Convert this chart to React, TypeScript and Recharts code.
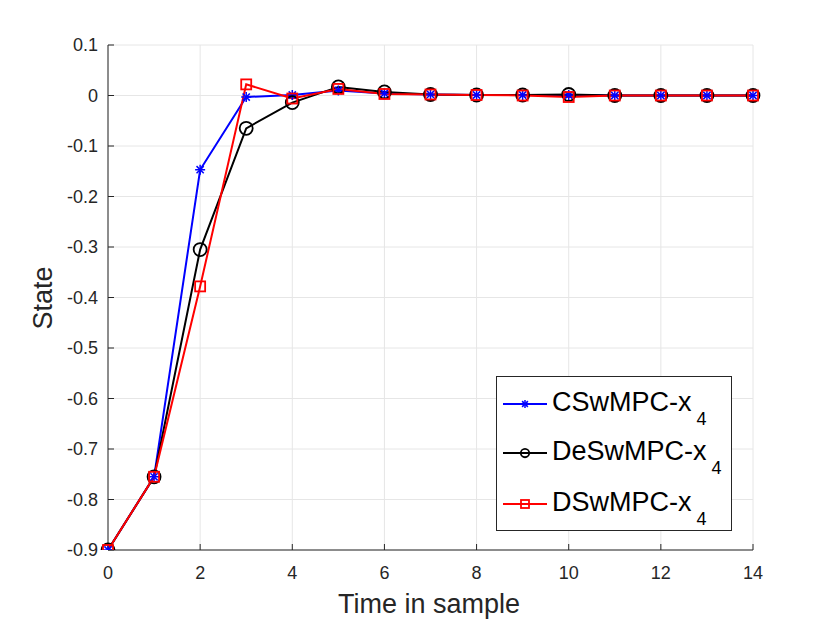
import React from 'react';
import { LineChart, Line, XAxis, YAxis, CartesianGrid } from 'recharts';

const timeSteps = [0, 1, 2, 3, 4, 5, 6, 7, 8, 9, 10, 11, 12, 13, 14];
const cswmpc = [-0.9, -0.755, -0.147, -0.003, 0.001, 0.01, 0.004, 0.002, 0.001, 0.001, 0.001, 0, 0, 0, 0];
const deswmpc = [-0.9, -0.755, -0.305, -0.065, -0.014, 0.017, 0.007, 0.002, 0.001, 0.001, 0.002, 0, 0, 0, 0];
const dswmpc = [-0.9, -0.755, -0.378, 0.022, -0.006, 0.013, 0.003, 0.002, 0.001, 0, -0.003, 0, 0, 0, 0];
const xTicks = [0, 2, 4, 6, 8, 10, 12, 14];
const yTicks = [-0.9, -0.8, -0.7, -0.6, -0.5, -0.4, -0.3, -0.2, -0.1, 0, 0.1];
const seriesNames = ['CSwMPC-x', 'DeSwMPC-x', 'DSwMPC-x'];

const data = timeSteps.map((t, i) => ({ t, c: cswmpc[i], de: deswmpc[i], d: dswmpc[i] }));

const FONT = '"Liberation Sans", Arial, Helvetica, sans-serif';
const AXIS = '#262626';

const Star = ({ cx, cy, color, s = 1 }: any) => (
  <g stroke={color} strokeWidth={1.5}>
    <line x1={cx - 5 * s} y1={cy} x2={cx + 5 * s} y2={cy} />
    <line x1={cx} y1={cy - 5 * s} x2={cx} y2={cy + 5 * s} />
    <line x1={cx - 3.6 * s} y1={cy - 3.6 * s} x2={cx + 3.6 * s} y2={cy + 3.6 * s} />
    <line x1={cx - 3.6 * s} y1={cy + 3.6 * s} x2={cx + 3.6 * s} y2={cy - 3.6 * s} />
  </g>
);
const Circ = ({ cx, cy, color, s = 1 }: any) => (
  <circle cx={cx} cy={cy} r={6.5 * s} fill="none" stroke={color} strokeWidth={1.8} />
);
const Sq = ({ cx, cy, color, s = 1 }: any) => (
  <rect x={cx - 5 * s} y={cy - 5 * s} width={10 * s} height={10 * s} fill="none" stroke={color} strokeWidth={1.8} />
);

const starDot = (p: any) => <Star key={`s-${p.index}`} cx={p.cx} cy={p.cy} color="#0000ff" />;
const circDot = (p: any) => <Circ key={`c-${p.index}`} cx={p.cx} cy={p.cy} color="#000000" />;
const sqDot = (p: any) => <Sq key={`q-${p.index}`} cx={p.cx} cy={p.cy} color="#ff0000" />;

const fmtY = (v: number) => (Math.abs(v) < 1e-9 ? '0' : v.toFixed(1));
const tickStyle = { fontSize: 18, fill: AXIS, fontFamily: FONT };

export default function App() {
  const legendRows = [
    { name: seriesNames[0], color: '#0000ff', M: Star, y: 404, s: 0.8 },
    { name: seriesNames[1], color: '#000000', M: Circ, y: 453, s: 0.65 },
    { name: seriesNames[2], color: '#ff0000', M: Sq, y: 504, s: 0.8 },
  ];
  return (
    <div style={{ position: 'absolute', left: 0, top: 0, width: 830, height: 623, background: '#fff' }}>
      <LineChart width={830} height={623} data={data} margin={{ top: 45, right: 77, bottom: 43, left: 48 }}>
        <CartesianGrid stroke="#e6e6e6" strokeWidth={1} />
        <XAxis
          dataKey="t"
          type="number"
          domain={[0, 14]}
          ticks={xTicks}
          height={30}
          tickSize={-6}
          tickMargin={22}
          tick={tickStyle}
          axisLine={{ stroke: AXIS }}
          tickLine={{ stroke: AXIS }}
        />
        <XAxis
          xAxisId="top"
          orientation="top"
          dataKey="t"
          type="number"
          domain={[0, 14]}
          ticks={xTicks}
          height={0}
          tickSize={-6}
          tickFormatter={() => ''}
          axisLine={{ stroke: AXIS }}
          tickLine={{ stroke: AXIS }}
        />
        <YAxis
          type="number"
          domain={[-0.9, 0.1]}
          ticks={yTicks}
          width={60}
          tickSize={-6}
          tickMargin={16}
          tickFormatter={fmtY}
          tick={tickStyle}
          axisLine={{ stroke: AXIS }}
          tickLine={{ stroke: AXIS }}
          allowDataOverflow
        />
        <YAxis
          yAxisId="right"
          orientation="right"
          type="number"
          domain={[-0.9, 0.1]}
          ticks={yTicks}
          width={0}
          tickSize={-6}
          tickFormatter={() => ''}
          axisLine={{ stroke: AXIS }}
          tickLine={{ stroke: AXIS }}
        />
        <Line dataKey="c" stroke="#0000ff" strokeWidth={2} dot={starDot} isAnimationActive={false} />
        <Line dataKey="de" stroke="#000000" strokeWidth={2} dot={circDot} isAnimationActive={false} />
        <Line dataKey="d" stroke="#ff0000" strokeWidth={2} dot={sqDot} isAnimationActive={false} />
      </LineChart>
      <svg width={830} height={623} style={{ position: 'absolute', left: 0, top: 0, pointerEvents: 'none' }}>
        <text x={429} y={613} textAnchor="middle" fontSize={27} fill={AXIS} fontFamily={FONT}>
          Time in sample
        </text>
        <text
          x={52}
          y={298}
          textAnchor="middle"
          fontSize={27}
          fill={AXIS}
          fontFamily={FONT}
          transform="rotate(-90 52 298)"
        >
          State
        </text>
        <rect x={496.5} y={376.5} width={235} height={154} fill="#fff" stroke={AXIS} strokeWidth={1} />
        {legendRows.map((r) => (
          <g key={r.name}>
            <line x1={503} y1={r.y} x2={547} y2={r.y} stroke={r.color} strokeWidth={2} />
            <r.M cx={525} cy={r.y} color={r.color} s={r.s} />
            <text x={552} y={r.y + 7} fontSize={27} fill="#000" fontFamily={FONT}>
              {r.name}
              <tspan dx={5} dy={14} fontSize={18}>4</tspan>
            </text>
          </g>
        ))}
      </svg>
    </div>
  );
}
